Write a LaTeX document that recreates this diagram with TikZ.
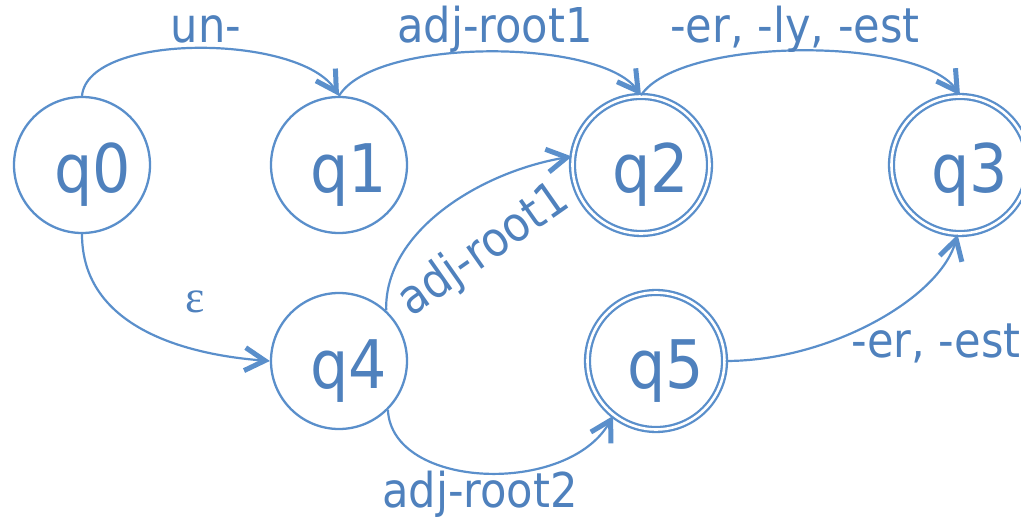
\documentclass[tikz,border=0pt]{standalone}
\usepackage{fontspec}
\IfFontExistsTF{DejaVu Sans Condensed}{\setmainfont{DejaVu Sans Condensed}}{\setmainfont{DejaVu Sans}[FakeStretch=0.9]}
\newfontfamily\epsfont{Liberation Serif}
\usetikzlibrary{arrows.meta}
\definecolor{txtblue}{HTML}{4F81BD}
\definecolor{lineblue}{HTML}{5A8FCB}
\tikzset{
  state/.style={circle, draw=lineblue, line width=2.3pt, minimum size=136pt, inner sep=0pt, fill=white},
  accstate/.style={circle, draw=lineblue, line width=2.3pt, double=white, double distance=2.6pt, minimum size=137pt, inner sep=0pt},
  qlab/.style={anchor=base, text=txtblue, font=\fontsize{67}{70}\selectfont, inner sep=0pt},
  elab/.style={anchor=base, text=txtblue, font=\fontsize{48}{52}\selectfont, inner sep=0pt},
  edge/.style={draw=lineblue, line width=2.2pt, -{Straight Barb[length=20pt,width=23pt,line width'=5pt]}},
}
\begin{document}
\begin{tikzpicture}[x=1pt, y=-1pt]
\useasboundingbox (0,0) rectangle (1021,518);
\node[state] (q0) at (82,165) {};
\node[state] (q1) at (339,165) {};
\node[accstate] (q2) at (641,165) {};
\node[accstate] (q3) at (960,165) {};
\node[state] (q4) at (339,361) {};
\node[accstate] (q5) at (656,361) {};
\node[qlab] (t0) at (93,193) {q0};
\node[qlab] (t1) at (349,193) {q1};
\node[qlab] (t2) at (651,193) {q2};
\node[qlab] (t3) at (970,193) {q3};
\node[qlab] (t4) at (349,389) {q4};
\node[qlab] (t5) at (666,389) {q5};
% edges
\draw[edge] (q0.north) .. controls +(6,-64) and +(-39,-62) .. (q1.north);
\draw[edge] (q1.north) .. controls +(36,-59) and +(-41,-57) .. (q2.north);
\draw[edge] (q2.north) .. controls +(39,-59) and +(-40,-59) .. (q3.north);
\draw[edge] (q0.south) .. controls +(0,95) and +(-80,-6) .. (q4.west);
\draw[edge] (q4.47) .. controls +(-2,-80) and +(-90,15) .. (q2.173);
\draw[edge] (q4.-45) .. controls +(4,80) and +(-45,80) .. (q5.232);
\draw[edge] (q5.east) .. controls +(103,0) and +(-18,64) .. (q3.268);
% labels
\node[elab] (l01) at (206,43) {un-};
\node[elab] (l12) at (495,43) {adj-root1};
\node[elab] (l23) at (795,43) {-er, -ly, -est};
\node[elab, font=\epsfont\fontsize{46}{50}\selectfont] (l04) at (195,313) {ε};
\node[text=txtblue, font=\fontsize{48}{52}\selectfont, inner sep=0pt, rotate=35] (l42) at (484,251) {adj-root1};
\node[elab] (l45) at (480,508) {adj-root2};
\node[elab] (l53) at (936,358) {-er, -est};
\end{tikzpicture}
\end{document}
